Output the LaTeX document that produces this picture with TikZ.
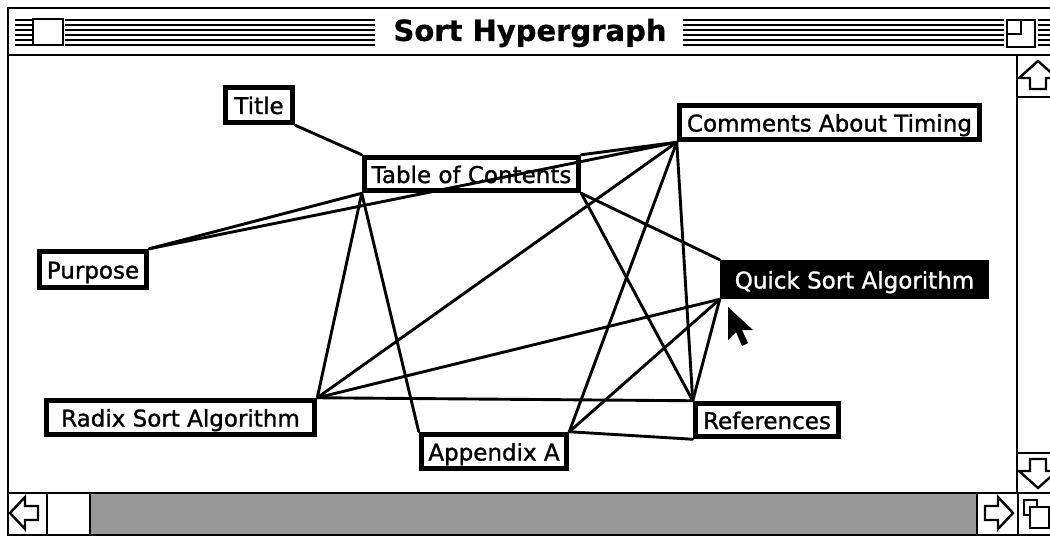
\documentclass[tikz,border=0pt]{standalone}
\usepackage{fontspec}
\setmainfont{DejaVu Sans}
\newfontfamily\genevafont{DejaVu Sans}[FakeBold=1.2]
\newfontfamily\chicagofont{DejaVu Sans Bold}[FakeBold=0.8]
\begin{document}
\begin{tikzpicture}[x=1pt,y=-1pt,
  frame/.style={line width=2.8pt},
  stripe/.style={line width=2.8pt},
  card/.style={draw, line width=5.5pt, fill=white, inner sep=0pt,
    font=\genevafont\fontsize{23}{23}\selectfont, text height=20pt, text depth=2pt},
  darkcard/.style={card, fill=black, text=white},
  link/.style={line width=2.9pt, line cap=round},
  arrowicon/.style={line width=2.4pt, line join=miter, fill=white}]
\useasboundingbox[fill=white] (0,0) rectangle (1050,536);

% ---- window frame and title bar ----
\foreach \y in {20,25,...,45} {
  \draw[stripe] (15,\y) -- (32,\y);
  \draw[stripe] (65,\y) -- (375,\y);
  \draw[stripe] (683,\y) -- (1004,\y);
  \draw[stripe] (1038,\y) -- (1050,\y);
}
\node[font=\chicagofont\fontsize{29}{29}\selectfont, inner sep=0pt] (title) at (530,33) {Sort Hypergraph};
\draw[frame, fill=white] (33,19) rectangle (63,45);
\draw[frame, fill=white] (1007,20) rectangle (1035,47);
\draw[frame] (1007,34) -- (1021,34) -- (1021,20);
\draw[frame] (8,536) -- (8,8) -- (1052,8);
\draw[frame] (8,55) -- (1052,55);

% ---- right scroll bar ----
\draw[frame] (1017,55) -- (1017,493);
\draw[frame] (1017,97) -- (1052,97);
\draw[frame] (1017,453) -- (1052,453);
\draw[arrowicon] (1038,61) -- (1057,78) -- (1046,78) -- (1046,89) -- (1030,89) -- (1030,78) -- (1019,78) -- cycle;
\draw[arrowicon] (1030,459) -- (1046,459) -- (1046,471) -- (1057,471) -- (1038,488) -- (1019,471) -- (1030,471) -- cycle;

% ---- bottom scroll bar ----
\fill[black!40] (90,493) rectangle (977,536);
\draw[frame] (8,493) -- (1052,493);
\draw[frame] (8,535) -- (1052,535);
\draw[frame] (47,493) -- (47,536);
\draw[frame] (90,493) -- (90,536);
\draw[frame] (977,493) -- (977,536);
\draw[frame] (1018,493) -- (1018,536);
\draw[arrowicon] (10,513) -- (25,497) -- (25,506) -- (38,506) -- (38,520) -- (25,520) -- (25,529) -- cycle;
\draw[arrowicon] (1013,513) -- (998,497) -- (998,506) -- (985,506) -- (985,520) -- (998,520) -- (998,529) -- cycle;
\draw[arrowicon] (1024,500) rectangle (1037,515);
\draw[arrowicon] (1030,507) rectangle (1049,528);

% ---- nodes ----
\node[card, minimum width=67pt, minimum height=35pt] (tit) at (259,105) {Title};
\node[card, minimum width=214pt, minimum height=33pt] (toc) at (471.5,174) {Table of Contents};
\node[card, minimum width=300pt, minimum height=34pt] (com) at (829.5,122.5) {Comments About Timing};
\node[card, minimum width=107pt, minimum height=36pt] (pur) at (93,269.5) {Purpose};
\node[darkcard, minimum width=264pt, minimum height=34pt] (qs) at (854.5,279.5) {Quick Sort Algorithm};
\node[card, minimum width=268pt, minimum height=34pt] (rad) at (180.5,417.5) {Radix Sort Algorithm};
\node[card, minimum width=145pt, minimum height=34pt] (app) at (494,451.5) {Appendix A};
\node[card, minimum width=143pt, minimum height=33pt] (ref) at (767,420) {References};

% ---- links ----
\draw[link] (tit.south east) -- (toc.north west);
\draw[link] (pur.north east) -- (toc.south west);
\draw[link] (pur.north east) -- (com.south west);
\draw[link] (toc.north east) -- (com.south west);
\draw[link] (toc.south west) -- (rad.north east);
\draw[link] (toc.south west) -- (app.north west);
\draw[link] (toc.south east) -- (qs.north west);
\draw[link] (toc.south east) -- (ref.north west);
\draw[link] (com.south west) -- (rad.north east);
\draw[link] (com.south west) -- (app.north east);
\draw[link] (com.south west) -- (ref.north west);
\draw[link] (qs.south west) -- (rad.north east);
\draw[link] (qs.south west) -- (app.north east);
\draw[link] (qs.south west) -- (ref.north west);
\draw[link] (rad.north east) -- (ref.north west);
\draw[link] (app.north east) -- (ref.south west);

% ---- mouse pointer ----
\fill[black] (728,307) -- (728,340) -- (736,332) -- (742,346) -- (748,343) -- (742,330) -- (753,330) -- cycle;
\end{tikzpicture}
\end{document}
